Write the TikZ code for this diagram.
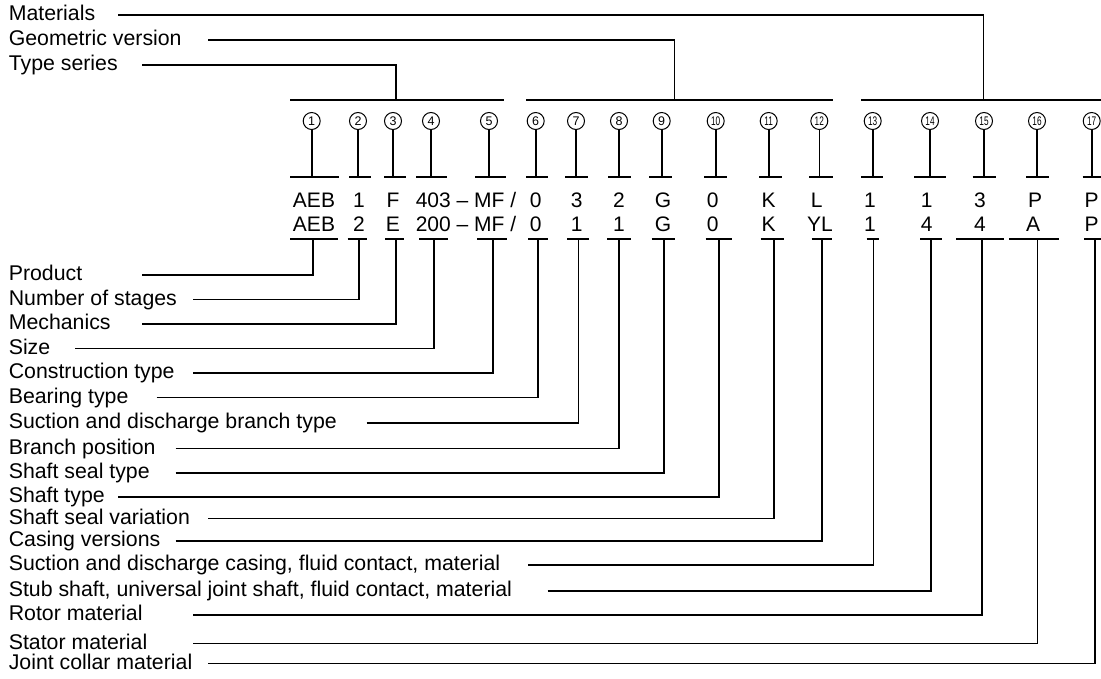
\documentclass[tikz,border=0pt]{standalone}
\usepackage{fontspec}
\setmainfont{Liberation Sans}
\usepackage{graphicx}
\begin{document}
\begin{tikzpicture}[x=1pt,y=-1pt,line width=1.6pt,
  lbl/.style={anchor=base west,inner sep=0pt,font=\fontsize{21.3}{21.3}\selectfont},
  code/.style={anchor=base,inner sep=0pt,font=\fontsize{21}{21}\selectfont},
  num/.style={circle,draw,line width=1pt,minimum size=17pt,inner sep=0pt,font=\fontsize{12.5}{12.5}\selectfont},
  conn/.style={line width=1.6pt}]
\useasboundingbox (0,0) rectangle (1101,678);

% ---- group labels (top) ----
\node[lbl] (mat) at (8,20.5) {Materials};
\node[lbl] (geo) at (8,45.5) {Geometric version};
\node[lbl] (typ) at (8,70.5) {Type series};
\coordinate (matS) at (118,15);
\coordinate (geoS) at (208,40);
\coordinate (typS) at (142,65);
\coordinate (gT) at (396,100);
\coordinate (gG) at (674.3,100);
\coordinate (gM) at (983.3,100);
\draw[conn] (typS) -| (gT);
\draw[conn] (geoS) -| (gG);
\draw[conn] (matS) -| (gM);
\coordinate (gTl) at (290,100); \coordinate (gTr) at (504,100);
\coordinate (gGl) at (526,100); \coordinate (gGr) at (832.7,100);
\coordinate (gMl) at (861,100); \coordinate (gMr) at (1101,100);
\draw[conn] (gTl) -- (gTr);
\draw[conn] (gGl) -- (gGr);
\draw[conn] (gMl) -- (gMr);

% ---- circled numbers, stems and upper T bars ----
\foreach \i/\x in {1/311.7, 2/358, 3/393, 4/431, 5/489, 6/535.7, 7/576,
  8/619, 9/661.7}{
  \node[num] (c\i) at (\x,121) {\i};
}
\foreach \i/\x in {10/715.7, 11/768.7, 12/819.3, 13/872.7, 14/930, 15/984,
  16/1037, 17/1091.7}{
  \node[num] (c\i) at (\x,121) {\scalebox{0.66}[1]{\i}};
}
\foreach \i/\x/\l/\r in {1/311.7/290/339, 2/358/349/370.7, 3/393/384/406,
  4/431/416/446.7, 5/489/475/506, 6/535.7/526/548, 7/576/565/588,
  8/619/608/630.7, 9/661.7/649/671.7, 10/715.7/704/727, 11/768.7/759/781.7,
  12/819.3/809/832.7, 13/872.7/861/883.3, 14/930/914/946, 15/984/972.7/995.7,
  16/1037/1026/1049, 17/1091.7/1082.7/1101}{
  \coordinate (tb\i) at (\x,177);
  \coordinate (tl\i) at (\l,177);
  \coordinate (tr\i) at (\r,177);
  \draw[conn] (c\i) -- (tb\i);
  \draw[conn] (tl\i) -- (tr\i);
}

% ---- code rows ----
\node[code] (a1) at (314,207) {AEB};
\node[code] (a2) at (359,207) {1};
\node[code] (a3) at (393,207) {F};
\node[code,anchor=base west] (a4) at (415,207) {403 – MF /};
\node[code] (a6) at (535.7,207) {0};
\node[code] (a7) at (576.7,207) {3};
\node[code] (a8) at (619,207) {2};
\node[code] (a9) at (663,207) {G};
\node[code] (a10) at (712.7,207) {0};
\node[code] (a11) at (768.7,207) {K};
\node[code] (a12) at (816.7,207) {L};
\node[code] (a13) at (870,207) {1};
\node[code] (a14) at (926.7,207) {1};
\node[code] (a15) at (980,207) {3};
\node[code] (a16) at (1035,207) {P};
\node[code] (a17) at (1091.7,207) {P};

\node[code] (b1) at (314,231) {AEB};
\node[code] (b2) at (359,231) {2};
\node[code] (b3) at (393,231) {E};
\node[code,anchor=base west] (b4) at (415,231) {200 – MF /};
\node[code] (b6) at (535.7,231) {0};
\node[code] (b7) at (576.7,231) {1};
\node[code] (b8) at (619,231) {1};
\node[code] (b9) at (663,231) {G};
\node[code] (b10) at (712.7,231) {0};
\node[code] (b11) at (768.7,231) {K};
\node[code] (b12) at (820,231) {YL};
\node[code] (b13) at (870,231) {1};
\node[code] (b14) at (926.7,231) {4};
\node[code] (b15) at (980,231) {4};
\node[code] (b16) at (1033,231) {A};
\node[code] (b17) at (1091.7,231) {P};

% ---- lower T bars and connectors to labels ----
\foreach \i/\l/\r/\s/\y/\sx/\t in {
  1/290/338/313/275/142/Product,
  2/347.7/367/359/299.5/193/Number of stages,
  3/385/404/395.7/324/142/Mechanics,
  4/419/448/434/348.5/75/Size,
  5/477/507/493/373/193/Construction type,
  6/528/548/538/397.5/156.7/Bearing type,
  7/567/589/578.3/423/366.7/Suction and discharge branch type,
  8/607/630.7/619/448.5/175.7/Branch position,
  9/651.7/675/664/473/175.7/Shaft seal type,
  10/705.7/731.7/719/497/118/Shaft type,
  11/760.7/784.3/774/518.5/208/Shaft seal variation,
  12/811.7/832.3/822/541/175.7/Casing versions,
  13/866.7/879/873.3/565/528/{Suction and discharge casing, fluid contact, material},
  14/920/941.7/931/591/547.7/{Stub shaft, universal joint shaft, fluid contact, material},
  15/956/1004.3/981.7/615/193/Rotor material,
  16/1009.3/1059.3/1037.3/643.5/193/Stator material,
  17/1084/1101/1095/663.5/208/Joint collar material}{
  \coordinate (bl\i) at (\l,239);
  \coordinate (br\i) at (\r,239);
  \coordinate (bb\i) at (\s,239);
  \draw[conn] (bl\i) -- (br\i);
  \node[lbl] (L\i) at (8,\y+5.5) {\t};
  \coordinate (ls\i) at (\sx,\y);
  \draw[conn] (ls\i) -| (bb\i);
}
\end{tikzpicture}
\end{document}
